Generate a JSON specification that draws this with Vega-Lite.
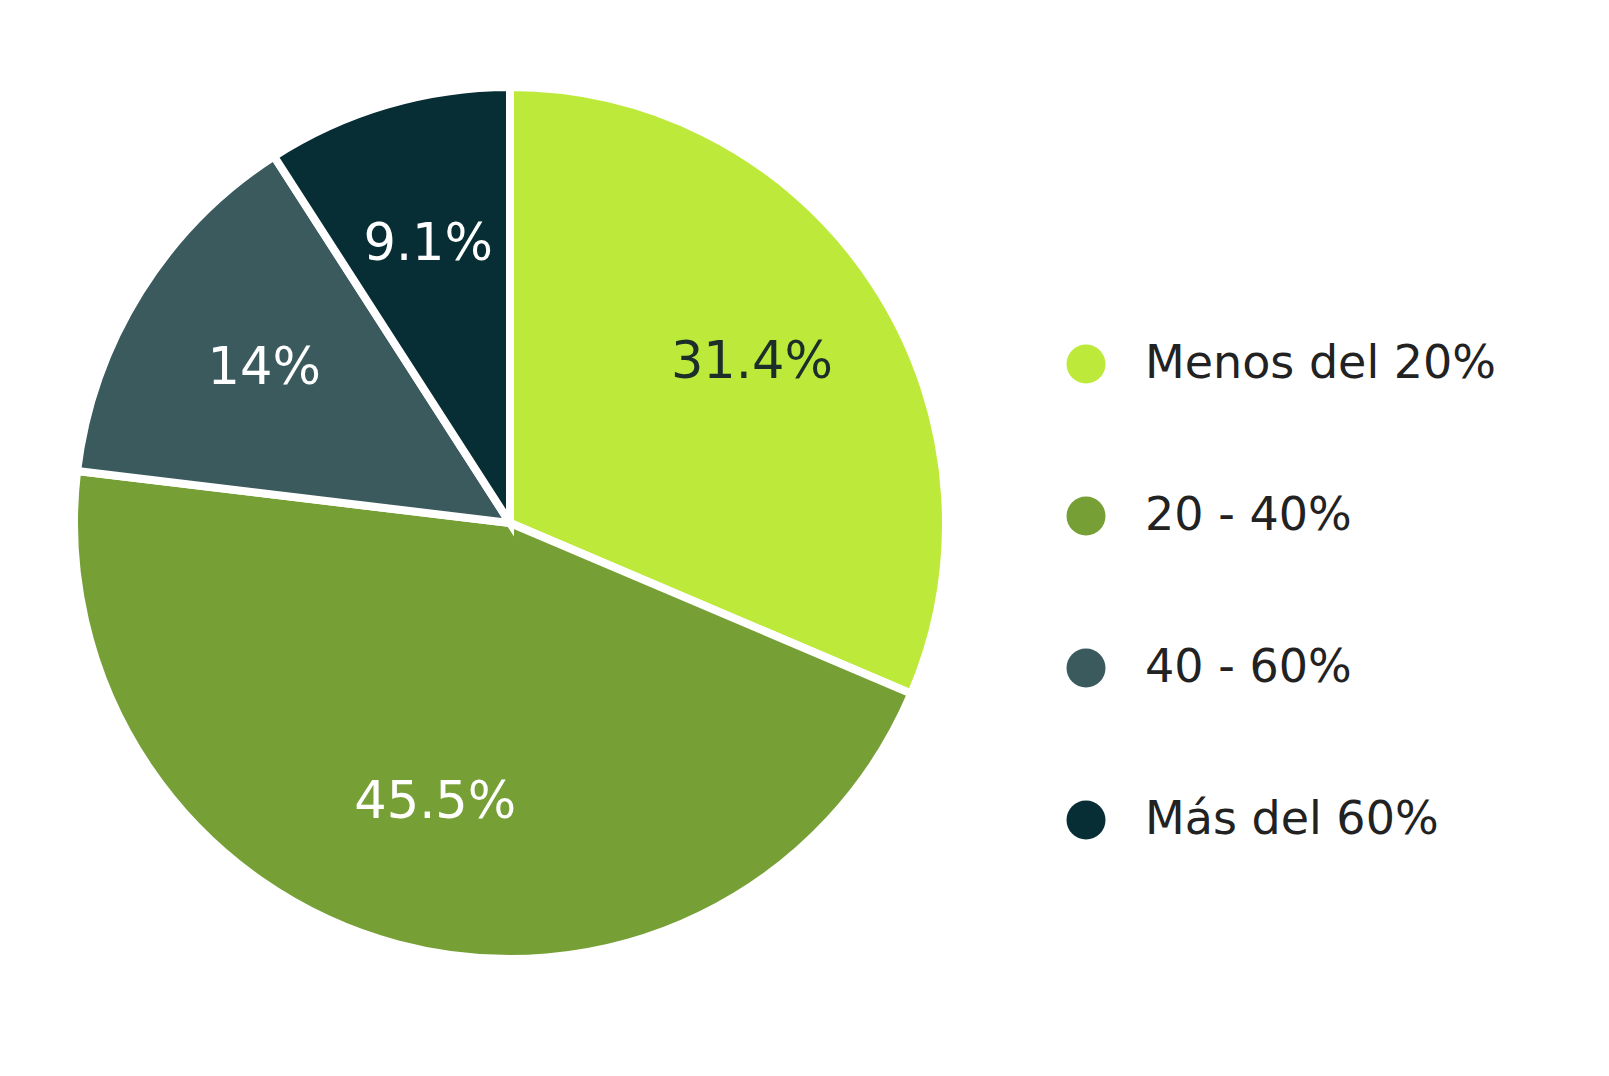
{
  "$schema": "https://vega.github.io/schema/vega-lite/v6.json",
  "width": 1020,
  "height": 1046,
  "autosize": {"type": "none"},
  "padding": {"left": 0, "top": 0, "right": 589, "bottom": 30},
  "background": "white",
  "config": {"view": {"stroke": null}, "font": "DejaVu Sans"},
  "data": {
    "values": [
      {"category": "Menos del 20%", "value": 31.4, "label": "31.4%", "rank": 1},
      {"category": "20 - 40%", "value": 45.5, "label": "45.5%", "rank": 2},
      {"category": "40 - 60%", "value": 14.0, "label": "14%", "rank": 3},
      {"category": "Más del 60%", "value": 9.1, "label": "9.1%", "rank": 4}
    ]
  },
  "layer": [
    {
      "mark": {"type": "arc", "radius": 436, "stroke": "white", "strokeWidth": 8},
      "encoding": {
        "theta": {"field": "value", "type": "quantitative", "stack": true},
        "order": {"field": "rank", "type": "quantitative", "sort": "ascending"},
        "color": {
          "field": "category",
          "type": "nominal",
          "sort": ["Menos del 20%", "20 - 40%", "40 - 60%", "Más del 60%"],
          "scale": {
            "domain": ["Menos del 20%", "20 - 40%", "40 - 60%", "Más del 60%"],
            "range": ["#BDEA3A", "#76A036", "#3A5A5E", "#072D35"]
          },
          "legend": {
            "title": null,
            "orient": "none",
            "legendX": 1063,
            "legendY": 341,
            "symbolType": "circle",
            "symbolSize": 1521,
            "symbolStrokeWidth": 0,
            "labelFontSize": 46,
            "labelFont": "DejaVu Sans",
            "labelColor": "#222222",
            "labelOffset": 36,
            "rowPadding": 106,
            "labelLimit": 600
          }
        }
      }
    },
    {
      "mark": {"type": "text", "radius": 290, "fontSize": 51, "font": "DejaVu Sans"},
      "encoding": {
        "theta": {"field": "value", "type": "quantitative", "stack": true},
        "order": {"field": "rank", "type": "quantitative", "sort": "ascending"},
        "text": {"field": "label", "type": "nominal"},
        "color": {
          "condition": {"test": "datum.category === 'Menos del 20%'", "value": "#1C2E2A"},
          "value": "white"
        }
      }
    }
  ]
}
